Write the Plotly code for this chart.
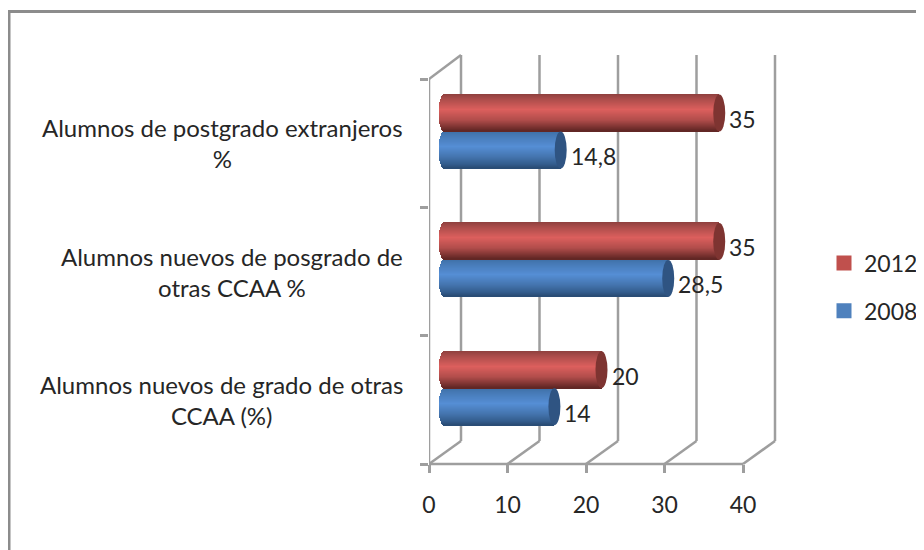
import math
import plotly.graph_objects as go

# ---- data ----
categories = [
    "Alumnos nuevos de grado de otras<br>CCAA (%)",
    "Alumnos nuevos de posgrado de<br>otras CCAA %",
    "Alumnos de postgrado extranjeros<br>%",
]
values_2008 = [14, 28.5, 14.8]
values_2012 = [20, 35, 35]
x_ticks = [0, 10, 20, 30, 40]

# ---- geometry / style ----
PAGE = 8                                 # page margin around the figure
W, H = 924, 550
L, T, B = 429 - PAGE, 55 - PAGE, 464 - PAGE   # plot box in figure px
R = W
PX_PER_UNIT = 7.85
DEPTH_X = 32 / PX_PER_UNIT               # back wall offset
BACK_FLOOR = 23 / (B - T)                # paper y of back floor
TOP_FRONT = (B - (79 - PAGE)) / (B - T)  # paper y of top front axis end
XMAX = (R - L) / PX_PER_UNIT
Y_TOP = 2.5 + 24 / 128.33
BAR_SHIFT_X = 15.5 / PX_PER_UNIT
BAR_SHIFT_Y = 0.09
BAR_H = 37 / 128.33
CAP = 6 / PX_PER_UNIT
GRID = "#9E9E9E"
TXT = "#262626"
FONT = "Lato"
N = 37

RED = dict(base="#C0504D", cap="#7E3431",
           stops=[(0, "#8E403E"), (0.12, "#A84B49"), (0.42, "#DC5F5D"), (0.7, "#B14D4B"), (0.9, "#7A3230"), (1, "#5E2523")])
BLUE = dict(base="#4F81BD", cap="#2F5482",
            stops=[(0, "#3D6FA6"), (0.12, "#4679B5"), (0.42, "#558ED5"), (0.7, "#4474AE"), (0.9, "#335C8C"), (1, "#294B72")])


def mix(stops, t):
    for (a, ca), (b, cb) in zip(stops, stops[1:]):
        if t <= b:
            f = (t - a) / (b - a)
            rgb = [round(int(ca[i:i + 2], 16) * (1 - f) + int(cb[i:i + 2], 16) * f) for i in (1, 3, 5)]
            return "rgb(%d,%d,%d)" % tuple(rgb)
    return stops[-1][1]


fig = go.Figure()
# hidden trace keeps the front axes alive
fig.add_trace(go.Scatter(x=x_ticks[:3], y=categories, mode="markers", marker=dict(opacity=0),
                         xaxis="x", yaxis="y", showlegend=False, hoverinfo="skip"))


def add_series(name, values, style, offset0, rank):
    fig.add_trace(go.Bar(y=categories, x=values, orientation="h", name=name, legendgroup=name, showlegend=False,
                         marker=dict(color=style["base"], line=dict(width=0)),
                         width=BAR_H, offset=offset0, xaxis="x2", yaxis="y2"))
    # legend swatch
    fig.add_trace(go.Scatter(x=[None], y=[None], mode="markers", name=name, legendgroup=name, legendrank=rank,
                             marker=dict(symbol="square", size=15, color=style["base"]), xaxis="x2", yaxis="y2"))
    for i in range(N):
        t = (i + 0.5) / N                # 0 = top of the cylinder
        u = 2 * t - 1
        a = CAP * math.sqrt(max(0, 1 - u * u))
        h = BAR_H / N
        off = offset0 + BAR_H * (1 - (i + 1) / N)
        col = mix(style["stops"], t)
        common = dict(y=categories, orientation="h", legendgroup=name, showlegend=False, hoverinfo="skip",
                      marker=dict(color=col, line=dict(width=0)), width=h * 1.15, offset=off,
                      xaxis="x2", yaxis="y2")
        fig.add_trace(go.Bar(x=values, **common))
        fig.add_trace(go.Bar(x=[a] * 3, base=[-a] * 3, **common))


add_series("2008", values_2008, BLUE, -BAR_H, 2)
add_series("2012", values_2012, RED, 0, 1)

shapes = []
line = dict(color=GRID, width=2.5)
for v in x_ticks:
    shapes.append(dict(type="line", xref="x", yref="paper", x0=v, x1=v + DEPTH_X, y0=0, y1=BACK_FLOOR, line=line, layer="below"))
    shapes.append(dict(type="line", xref="x", yref="paper", x0=v + DEPTH_X, x1=v + DEPTH_X, y0=BACK_FLOOR, y1=1, line=line, layer="below"))
shapes.append(dict(type="line", xref="x", yref="paper", x0=0, x1=DEPTH_X, y0=TOP_FRONT, y1=1, line=line, layer="below"))
shapes.append(dict(type="line", xref="x", yref="paper", x0=0, x1=0, y0=0, y1=TOP_FRONT, line=line, layer="below"))
shapes.append(dict(type="line", xref="x", yref="paper", x0=0, x1=x_ticks[-1], y0=0, y1=0, line=line, layer="below"))

# cylinder end caps, driven by the values
for vals, style, c in ((values_2008, BLUE, -BAR_H / 2), (values_2012, RED, BAR_H / 2)):
    for i, v in enumerate(vals):
        shapes.append(dict(type="circle", xref="x2", yref="y2", x0=v - CAP, x1=v + CAP,
                           y0=i + c - BAR_H / 2, y1=i + c + BAR_H / 2,
                           fillcolor=style["cap"], line=dict(width=0), layer="above"))

# outer frame (px given in page coordinates)
bx = lambda px: (px - PAGE - L) / (R - L)
by = lambda py: (B - (py - PAGE)) / (B - T)
frame = dict(color="#8C8C8C", width=3)
shapes.append(dict(type="line", xref="paper", yref="paper", x0=bx(9), x1=bx(924), y0=by(11.5), y1=by(11.5), line=frame))
shapes.append(dict(type="line", xref="paper", yref="paper", x0=bx(9), x1=bx(9), y0=by(10), y1=by(550), line=frame))

annotations = []
for i, cat in enumerate(categories):
    annotations.append(dict(text=cat, xref="x", yref="y", x=0, y=i, xanchor="right", yanchor="middle",
                            xshift=-24, yshift=0, align="center", showarrow=False,
                            font=dict(family=FONT, size=24, color=TXT)))
for vals, c in ((values_2008, -BAR_H / 2), (values_2012, BAR_H / 2)):
    for i, v in enumerate(vals):
        annotations.append(dict(text=str(v).replace(".", ","), xref="x2", yref="y2", x=v, y=i + c,
                                xanchor="left", yanchor="middle", xshift=8, yshift=-6, showarrow=False,
                                font=dict(family=FONT, size=23, color=TXT)))

fig.update_layout(
    width=W, height=H, autosize=False,
    margin=dict(l=L, r=W - R, t=T, b=H - B, pad=0),
    paper_bgcolor="white", plot_bgcolor="white",
    barmode="overlay", bargap=0,
    font=dict(family=FONT, size=23, color=TXT),
    shapes=shapes, annotations=annotations,
    legend=dict(x=bx(824), y=by(241.5), xanchor="left", yanchor="top", bgcolor="rgba(0,0,0,0)",
                traceorder="grouped", tracegroupgap=15, font=dict(family=FONT, size=23, color=TXT)),
    xaxis=dict(range=[0, XMAX], showgrid=False, zeroline=False, showline=False, tickmode="array", tickvals=x_ticks,
               ticks="outside", ticklen=8, tickwidth=2.5, tickcolor=GRID, ticklabelstandoff=12,
               tickfont=dict(family=FONT, size=23, color=TXT)),
    yaxis=dict(type="category", categoryorder="array", categoryarray=categories, range=[-0.5, Y_TOP], tickson="boundaries",
               showgrid=False, zeroline=False, showline=False, ticks="outside", ticklen=8, tickwidth=2.5, tickcolor=GRID,
               showticklabels=False),
    xaxis2=dict(overlaying="x", range=[-BAR_SHIFT_X, XMAX - BAR_SHIFT_X], visible=False),
    yaxis2=dict(overlaying="y", type="category", categoryorder="array", categoryarray=categories,
                range=[-0.5 - BAR_SHIFT_Y, Y_TOP - BAR_SHIFT_Y], visible=False),
)
fig.write_html("out.html", config=dict(displayModeBar=False))
